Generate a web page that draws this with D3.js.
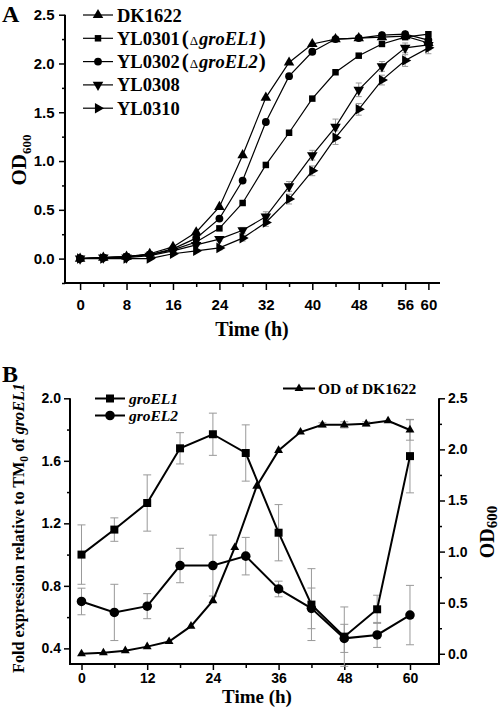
<!DOCTYPE html>
<html><head><meta charset="utf-8">
<script src="https://cdn.jsdelivr.net/npm/d3@7"></script>
<style>body{margin:0;background:#fff}svg{display:block}</style>
</head><body>
<svg id="c" width="500" height="707"></svg>
<script>
// ---------- Panel A data ----------
const timeA = [0,4,8,12,16,20,24,28,32,36,40,44,48,52,56,60];
const dk1622 = [0,0.01,0.02,0.05,0.12,0.27,0.53,1.06,1.65,2.01,2.20,2.25,2.26,2.27,2.28,2.21];
const yl0301 = [0,0.01,0.02,0.04,0.09,0.17,0.31,0.57,0.96,1.29,1.64,1.91,2.08,2.20,2.27,2.30];
const yl0302 = [0,0.01,0.02,0.04,0.10,0.21,0.41,0.80,1.40,1.87,2.12,2.25,2.26,2.29,2.30,2.24];
const yl0308 = [0,0.01,0.01,0.03,0.08,0.14,0.20,0.29,0.43,0.74,1.06,1.35,1.73,1.97,2.16,2.19];
const yl0310 = [0,0,0,0,0.05,0.08,0.11,0.21,0.37,0.61,0.90,1.24,1.53,1.83,2.03,2.16];
const err0308 = [0,0,0,0,0,0,0.02,0.03,0.05,0.05,0.05,0.08,0.07,0.05,0.05,0.05];
const err0310 = [0,0,0,0,0,0,0.02,0.03,0.04,0.05,0.05,0.07,0.06,0.05,0.06,0.06];
const xTicksA = [0,8,16,24,32,40,48,56,60];
const xMinorA = [4,12,20,28,36,44,52];
const yTicksA = [0,0.5,1.0,1.5,2.0,2.5];
const yMinorA = [-0.25,0.25,0.75,1.25,1.75,2.25];

// ---------- Panel B data ----------
const timeB = [0,6,12,18,24,30,36,42,48,54,60];
const groEL1 = [1.00,1.16,1.33,1.68,1.77,1.65,1.14,0.68,0.475,0.65,1.63];
const groEL1err = [0.19,0.075,0.18,0.10,0.135,0.18,0.18,0.23,0.19,0.09,0.235];
const groEL2 = [0.70,0.63,0.67,0.93,0.93,0.99,0.78,0.656,0.464,0.486,0.613];
const groEL2err = [0.085,0.18,0.08,0.11,0.195,0.12,0.05,0.13,0.09,0.08,0.19];
const timeOD = [0,4,8,12,16,20,24,28,32,36,40,44,48,52,56,60];
const odDK = [0,0.01,0.03,0.07,0.12,0.27,0.52,1.04,1.64,1.99,2.17,2.24,2.24,2.25,2.28,2.19];
const odDKerr = [0,0,0,0,0,0,0,0,0,0,0,0.02,0.03,0.02,0,0.1];
const xTicksB = [0,12,24,36,48,60];
const xMinorB = [6,18,30,42,54];
const yTicksBL = [0.4,0.8,1.2,1.6,2.0];
const yMinorBL = [0.6,1.0,1.4,1.8];
const yTicksBR = [0,0.5,1.0,1.5,2.0,2.5];
const yMinorBR = [0.25,0.75,1.25,1.75,2.25];

const svg = d3.select("#c");
const SERIF = "'Liberation Serif','Times New Roman',serif";
const SANS = "'Liberation Sans',Arial,sans-serif";

function sym(type, size, rot) {
  return {path: d3.symbol().type(type).size(size)(), rot: rot||0};
}
function drawMarkers(g, pts, s) {
  g.selectAll(null).data(pts).enter().append("path")
    .attr("d", s.path)
    .attr("transform", d => `translate(${d[0]},${d[1]}) rotate(${s.rot})`)
    .attr("fill", "#000");
}
function errBars(g, xs, ys, es, x, y, cap) {
  xs.forEach((t,i) => {
    if (!es[i]) return;
    const X = x(t), y1 = y(ys[i]+es[i]), y2 = y(ys[i]-es[i]);
    g.append("line").attr("x1",X).attr("x2",X).attr("y1",y1).attr("y2",y2).attr("stroke","#999").attr("stroke-width",1);
    [y1,y2].forEach(yy => g.append("line").attr("x1",X-cap).attr("x2",X+cap).attr("y1",yy).attr("y2",yy).attr("stroke","#999").attr("stroke-width",1));
  });
}

// ================= Panel A =================
const xA = d3.scaleLinear().domain([-2.6, 62]).range([65, 440]);
const yA = d3.scaleLinear().domain([-0.25, 2.5]).range([283, 14.7]);
const gA = svg.append("g");

const axA = gA.append("g").attr("transform","translate(0,283)")
  .call(d3.axisBottom(xA).tickValues(xTicksA).tickSize(7).tickFormat(d3.format("d")));
gA.append("g").attr("transform","translate(0,283)")
  .call(d3.axisBottom(xA).tickValues(xMinorA).tickSize(4).tickFormat(""));
const ayA = gA.append("g").attr("transform","translate(65,0)")
  .call(d3.axisLeft(yA).tickValues(yTicksA).tickSize(6).tickFormat(d3.format(".1f")));
gA.append("g").attr("transform","translate(65,0)")
  .call(d3.axisLeft(yA).tickValues(yMinorA).tickSize(3).tickFormat(""));
gA.selectAll(".domain").attr("d", null);
gA.append("line").attr("x1",64).attr("x2",440).attr("y1",283).attr("y2",283).attr("stroke","#000").attr("stroke-width",2);
gA.append("line").attr("x1",65).attr("x2",65).attr("y1",yA(2.5)).attr("y2",284).attr("stroke","#000").attr("stroke-width",2);
gA.selectAll(".tick line").attr("stroke-width",1.5);
gA.selectAll(".tick text").attr("font-family",SANS).attr("font-weight","bold").attr("font-size",15).attr("fill","#000");
axA.selectAll(".tick text").attr("dy","1.1em");
ayA.selectAll(".tick text").attr("dx","-0.1em");

const seriesA = [
  {name:"DK1622", v:dk1622, s:sym(d3.symbolTriangle,48,0)},
  {name:"YL0301", v:yl0301, s:sym(d3.symbolSquare,42,0)},
  {name:"YL0302", v:yl0302, s:sym(d3.symbolCircle,48,0)},
  {name:"YL0308", v:yl0308, s:sym(d3.symbolTriangle,48,180), e:err0308},
  {name:"YL0310", v:yl0310, s:sym(d3.symbolTriangle,48,90), e:err0310}
];
const lineA = d3.line().x(d=>xA(d[0])).y(d=>yA(d[1]));
seriesA.forEach(se => {
  if (se.e) errBars(gA, timeA, se.v, se.e, xA, yA, 3);
});
seriesA.forEach(se => {
  const pts = timeA.map((t,i)=>[t,se.v[i]]);
  gA.append("path").attr("d", lineA(pts)).attr("fill","none").attr("stroke","#000").attr("stroke-width",1.2);
  drawMarkers(gA, pts.map(p=>[xA(p[0]),yA(p[1])]), se.s);
});

// legend A
const legA = gA.append("g");
const legLabels = [
  ["DK1622"],["YL0301","groEL1"],["YL0302","groEL2"],["YL0308"],["YL0310"]
];
seriesA.forEach((se,i) => {
  const yy = 15 + i*23.3;
  legA.append("line").attr("x1",83).attr("x2",113).attr("y1",yy).attr("y2",yy).attr("stroke","#000").attr("stroke-width",1.2);
  drawMarkers(legA, [[98,yy]], se.s);
  const t = legA.append("text").attr("x",117).attr("y",yy+6.5).attr("font-family",SERIF).attr("font-weight","bold").attr("font-size",18.5);
  const lab = legLabels[i];
  t.append("tspan").text(lab[0]);
  if (lab[1]) {
    t.append("tspan").text("(").attr("font-size",21).attr("dx",2);
    t.append("tspan").text("\u0394").attr("font-size",13).attr("font-weight","normal").attr("dx",1);
    t.append("tspan").text(lab[1]).attr("font-style","italic").attr("dx",1);
    t.append("tspan").text(")").attr("font-size",21).attr("dx",1);
  }
});

// labels A
svg.append("text").attr("x",2).attr("y",22).text("A").attr("font-family",SERIF).attr("font-weight","bold").attr("font-size",24);
const ylabA = svg.append("text").attr("transform","translate(26,160) rotate(-90)").attr("text-anchor","middle")
  .attr("font-family",SERIF).attr("font-weight","bold").attr("font-size",21);
ylabA.append("tspan").text("OD");
ylabA.append("tspan").text("600").attr("font-size",13).attr("dy",5);
svg.append("text").attr("x",252).attr("y",336).attr("text-anchor","middle").text("Time (h)")
  .attr("font-family",SERIF).attr("font-weight","bold").attr("font-size",20);

// ================= Panel B =================
const xB = d3.scaleLinear().domain([-2.1, 65.3]).range([70, 439]);
const yBL = d3.scaleLinear().domain([0.3, 2.0]).range([664, 398.3]);
const yBR = d3.scaleLinear().domain([-0.1, 2.5]).range([664, 398.3]);
const gB = svg.append("g");
const axB = gB.append("g").attr("transform","translate(0,664)")
  .call(d3.axisBottom(xB).tickValues(xTicksB).tickSize(6).tickFormat(d3.format("d")));
gB.append("g").attr("transform","translate(0,664)")
  .call(d3.axisBottom(xB).tickValues(xMinorB).tickSize(4).tickFormat(""));
const ayBL = gB.append("g").attr("transform","translate(70,0)")
  .call(d3.axisLeft(yBL).tickValues(yTicksBL).tickSize(6).tickFormat(d3.format(".1f")));
gB.append("g").attr("transform","translate(70,0)")
  .call(d3.axisLeft(yBL).tickValues(yMinorBL).tickSize(3).tickFormat(""));
const ayBR = gB.append("g").attr("transform","translate(439,0)")
  .call(d3.axisRight(yBR).tickValues(yTicksBR).tickSize(6).tickFormat(d3.format(".1f")));
gB.append("g").attr("transform","translate(439,0)")
  .call(d3.axisRight(yBR).tickValues(yMinorBR).tickSize(3).tickFormat(""));
gB.selectAll(".domain").attr("d", null);
gB.append("line").attr("x1",69).attr("x2",440).attr("y1",664).attr("y2",664).attr("stroke","#000").attr("stroke-width",2);
gB.append("line").attr("x1",70).attr("x2",70).attr("y1",yBL(2.0)).attr("y2",665).attr("stroke","#000").attr("stroke-width",2);
gB.append("line").attr("x1",439).attr("x2",439).attr("y1",yBR(2.5)).attr("y2",665).attr("stroke","#000").attr("stroke-width",2);
gB.selectAll(".tick line").attr("stroke-width",1.5);
gB.selectAll(".tick text").attr("font-family",SANS).attr("font-weight","bold").attr("font-size",14).attr("fill","#000");

errBars(gB, timeB, groEL1, groEL1err, xB, yBL, 4);
errBars(gB, timeB, groEL2, groEL2err, xB, yBL, 4);
errBars(gB, timeOD, odDK, odDKerr, xB, yBR, 4);

const sq = sym(d3.symbolSquare,64,0), ci = sym(d3.symbolCircle,72,0), tr = sym(d3.symbolTriangle,34,0);
const ptsOD = timeOD.map((t,i)=>[xB(t),yBR(odDK[i])]);
const pts1 = timeB.map((t,i)=>[xB(t),yBL(groEL1[i])]);
const pts2 = timeB.map((t,i)=>[xB(t),yBL(groEL2[i])]);
[ptsOD,pts1,pts2].forEach(p => gB.append("path").attr("d", d3.line()(p)).attr("fill","none").attr("stroke","#000").attr("stroke-width",2));
drawMarkers(gB, ptsOD, tr);
drawMarkers(gB, pts1, sq);
drawMarkers(gB, pts2, ci);

// legend B
const legB = [["groEL1", sq, 95, 398.5], ["groEL2", ci, 95, 415.5]];
legB.forEach(l => {
  gB.append("line").attr("x1",l[2]).attr("x2",l[2]+30).attr("y1",l[3]).attr("y2",l[3]).attr("stroke","#000").attr("stroke-width",2);
  drawMarkers(gB, [[l[2]+15,l[3]]], l[1]);
  gB.append("text").attr("x",l[2]+34).attr("y",l[3]+5).text(l[0]).attr("font-family",SERIF)
    .attr("font-weight","bold").attr("font-style","italic").attr("font-size",15.5);
});
gB.append("line").attr("x1",283).attr("x2",315).attr("y1",388.5).attr("y2",388.5).attr("stroke","#000").attr("stroke-width",2);
drawMarkers(gB, [[299,388.5]], tr);
gB.append("text").attr("x",318).attr("y",393.5).text("OD of DK1622").attr("font-family",SERIF).attr("font-weight","bold").attr("font-size",15.5);

// labels B
svg.append("text").attr("x",2).attr("y",382).text("B").attr("font-family",SERIF).attr("font-weight","bold").attr("font-size",24);
const ylabB = svg.append("text").attr("transform","translate(24,528) rotate(-90)").attr("text-anchor","middle")
  .attr("font-family",SERIF).attr("font-weight","bold").attr("font-size",16.2);
ylabB.append("tspan").text("Fold expression relative to TM");
ylabB.append("tspan").text("0").attr("font-size",11.5).attr("dy",4);
ylabB.append("tspan").text(" of ").attr("dy",-4);
ylabB.append("tspan").text("groEL1").attr("font-style","italic");
const ylabR = svg.append("text").attr("transform","translate(494,532) rotate(-90)").attr("text-anchor","middle")
  .attr("font-family",SERIF).attr("font-weight","bold").attr("font-size",20);
ylabR.append("tspan").text("OD");
ylabR.append("tspan").text("600").attr("font-size",15).attr("dy",3);
svg.append("text").attr("x",257).attr("y",703).attr("text-anchor","middle").text("Time (h)")
  .attr("font-family",SERIF).attr("font-weight","bold").attr("font-size",19);
</script>
</body></html>
